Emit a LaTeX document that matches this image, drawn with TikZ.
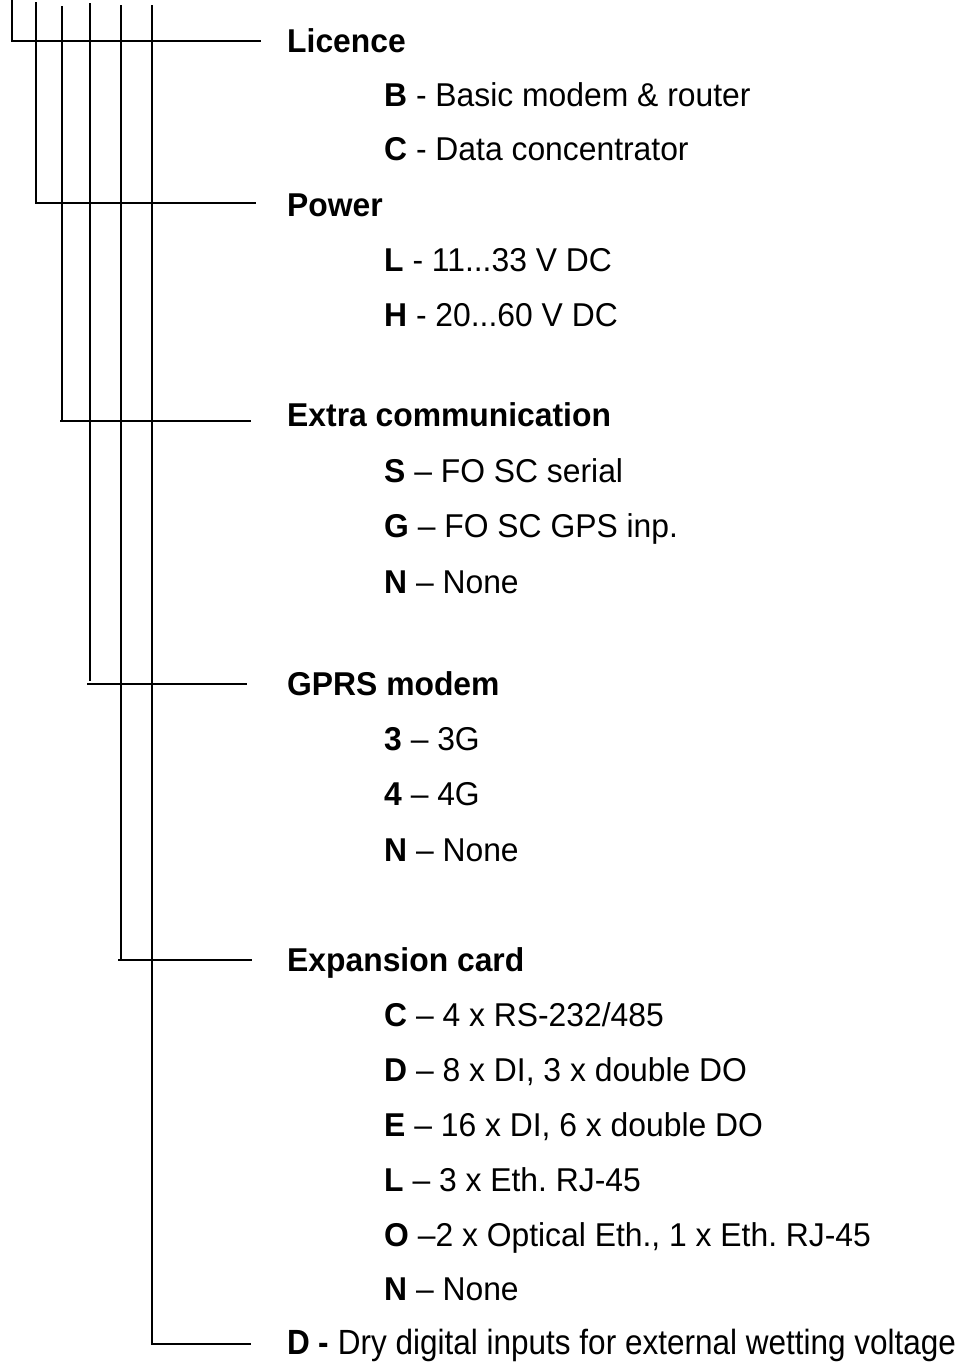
\documentclass[tikz,border=0pt]{standalone}
\usepackage{fontspec}
\setmainfont{Liberation Sans}[FakeStretch=0.965]
\newfontfamily\narrowfont{Liberation Sans}[FakeStretch=0.9]
\frenchspacing
\begin{document}
\begin{tikzpicture}[x=1pt,y=-1pt,
  ln/.style={line width=2pt},
  head/.style={anchor=base west,inner sep=0pt,font=\bfseries\fontsize{33}{38}\selectfont},
  item/.style={anchor=base west,inner sep=0pt,font=\fontsize{33}{38}\selectfont},
  lastitem/.style={anchor=base west,inner sep=0pt,font=\narrowfont\fontsize{35}{40}\selectfont}]
\useasboundingbox (0,0) rectangle (972,1365);
% headings
\node[head] (lic) at (287,52) {Licence};
\node[head] (pow) at (287,216) {Power};
\node[head] (ext) at (287,426) {Extra communication};
\node[head] (gprs) at (287,695) {GPRS modem};
\node[head] (exp) at (287,971) {Expansion card};
\node[lastitem] (dry) at (287,1354) {\textbf{D -} Dry digital inputs for external wetting voltage};
% items
\node[item] (licB) at (384,106) {\textbf{B} - Basic modem \& router};
\node[item] (licC) at (384,160) {\textbf{C} - Data concentrator};
\node[item] (powL) at (384,271) {\textbf{L} - 11...33 V DC};
\node[item] (powH) at (384,326) {\textbf{H} - 20...60 V DC};
\node[item] (extS) at (384,482) {\textbf{S} -- FO SC serial};
\node[item] (extG) at (384,537) {\textbf{G} -- FO SC GPS inp.};
\node[item] (extN) at (384,593) {\textbf{N} -- None};
\node[item] (gp3) at (384,750) {\textbf{3} -- 3G};
\node[item] (gp4) at (384,805) {\textbf{4} -- 4G};
\node[item] (gpN) at (384,861) {\textbf{N} -- None};
\node[item] (exC) at (384,1026) {\textbf{C} -- 4 x RS-232/485};
\node[item] (exD) at (384,1081) {\textbf{D} -- 8 x DI, 3 x double DO};
\node[item] (exE) at (384,1136) {\textbf{E} -- 16 x DI, 6 x double DO};
\node[item] (exL) at (384,1191) {\textbf{L} -- 3 x Eth. RJ-45};
\node[item] (exO) at (384,1246) {\textbf{O} --2 x Optical Eth., 1 x Eth. RJ-45};
\node[item] (exN) at (384,1300) {\textbf{N} -- None};
% connector coordinates
\coordinate (t1) at (12,0);   \coordinate (e1) at (261,41);
\coordinate (t2) at (36,2);   \coordinate (s2) at (35,203);  \coordinate (e2) at (256,203);
\coordinate (t3) at (62,6);   \coordinate (s3) at (60,421);  \coordinate (e3) at (251,421);
\coordinate (t4) at (90,3);   \coordinate (s4) at (87,684);  \coordinate (e4) at (247,684);
\coordinate (t5) at (121,5);  \coordinate (s5) at (118,960); \coordinate (e5) at (252,960);
\coordinate (t6) at (152,5);  \coordinate (e6) at (251,1344);
% connectors
\draw[ln] (t1) |- (e1);
\draw[ln] (t2) -- (t2 |- s2);  \draw[ln] (s2) -- (e2);
\draw[ln] (t3) -- (t3 |- s3);  \draw[ln] (s3) -- (e3);
\draw[ln] (t4) -- ([yshift=3pt]t4 |- s4);  \draw[ln] (s4) -- (e4);
\draw[ln] (t5) -- (t5 |- s5);  \draw[ln] (s5) -- (e5);
\draw[ln] (t6) |- (e6);
\end{tikzpicture}
\end{document}
